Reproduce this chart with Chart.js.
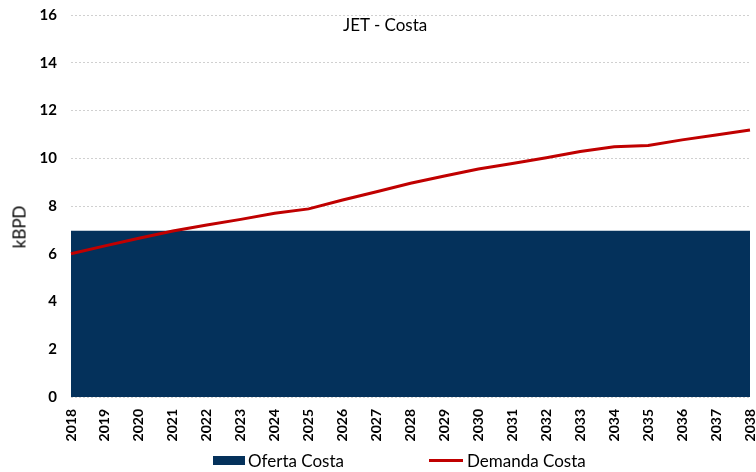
<!DOCTYPE html>
<html>
<head>
<meta charset="utf-8">
<script src="https://cdn.jsdelivr.net/npm/chart.js@4.4.1/dist/chart.umd.min.js"></script>
<style>
  html, body { margin: 0; padding: 0; background: #fff; }
  #wrap { position: relative; width: 756px; height: 472px; font-family: Lato, "Open Sans", sans-serif; }
  canvas { position: absolute; left: 0; top: 0; }
  .lbl { position: absolute; color: #000; white-space: nowrap; }
  #title { left: 343px; top: 14px; font-size: 17px; }
  #ytitle { left: 19px; top: 227px; font-size: 17px; transform: translate(-50%, -50%) rotate(-90deg); }
  #legend { position: absolute; left: 0; top: 450px; width: 756px; height: 20px; }
  .sw1 { position: absolute; left: 213px; top: 6px; width: 32px; height: 9px; background: #04315B; }
  .sw2 { position: absolute; left: 429px; top: 9px; width: 34px; height: 3px; background: #C00000; }
  .t1 { position: absolute; left: 248px; top: 0px; font-size: 17px; }
  .t2 { position: absolute; left: 467px; top: 0px; font-size: 17px; }
</style>
</head>
<body>
<div id="wrap">
  <canvas id="c" width="756" height="472"></canvas>
  <div class="lbl" id="title">JET - Costa</div>
  <div class="lbl" id="ytitle">kBPD</div>
  <div id="legend">
    <div class="sw1"></div><div class="lbl t1">Oferta Costa</div>
    <div class="sw2"></div><div class="lbl t2">Demanda Costa</div>
  </div>
</div>
<script>
const years = ["2018","2019","2020","2021","2022","2023","2024","2025","2026","2027","2028","2029","2030","2031","2032","2033","2034","2035","2036","2037","2038"];
const ofertaCosta = [6.96,6.96,6.96,6.96,6.96,6.96,6.96,6.96,6.96,6.96,6.96,6.96,6.96,6.96,6.96,6.96,6.96,6.96,6.96,6.96,6.96];
const demandaCosta = [6.0,6.33,6.65,6.95,7.2,7.44,7.7,7.88,8.25,8.6,8.95,9.26,9.55,9.78,10.02,10.28,10.48,10.53,10.77,10.97,11.18];
const yTicks = [0,2,4,6,8,10,12,14,16];

new Chart(document.getElementById('c'), {
  type: 'line',
  data: {
    labels: years,
    datasets: [
      {
        label: 'Demanda Costa',
        data: demandaCosta,
        borderColor: '#C00000',
        borderWidth: 3,
        pointRadius: 0,
        tension: 0,
        fill: false,
        order: 1
      },
      {
        label: 'Oferta Costa',
        data: ofertaCosta,
        borderWidth: 0,
        borderColor: 'rgba(0,0,0,0)',
        backgroundColor: '#04315B',
        pointRadius: 0,
        fill: 'origin',
        order: 2
      }
    ]
  },
  options: {
    responsive: false,
    animation: false,
    layout: { padding: { left: 0, right: 6, top: 15, bottom: 0 } },
    plugins: { legend: { display: false }, tooltip: { enabled: false } },
    scales: {
      x: {
        type: 'category',
        offset: false,
        grid: { display: false },
        border: { display: false },
        ticks: {
          minRotation: 90, maxRotation: 90, autoSkip: false,
          color: '#000', padding: 4,
          font: { family: 'Lato', size: 14, weight: 'bold' }
        },
        afterFit: (s) => { s.height = 75; s.paddingLeft = 0; s.paddingRight = 0; }
      },
      y: {
        min: 0, max: 16,
        afterBuildTicks: (s) => { s.ticks = yTicks.map(v => ({ value: v })); },
        grid: { color: '#d0d0d0', lineWidth: 1, tickLength: 0, drawTicks: false },
        border: { display: false, dash: [2, 2] },
        ticks: {
          color: '#000', padding: 14,
          font: { family: 'Lato', size: 15, weight: 'bold' }
        },
        afterFit: (s) => { s.width = 71; s.paddingTop = 0; s.paddingBottom = 0; }
      }
    }
  }
});
</script>
</body>
</html>
